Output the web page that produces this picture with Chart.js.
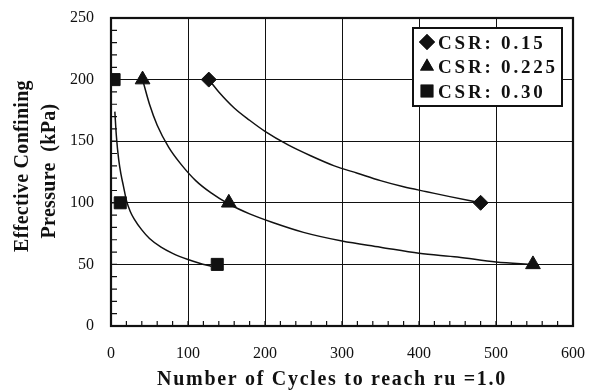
<!DOCTYPE html>
<html>
<head>
<meta charset="utf-8">
<script src="https://cdn.jsdelivr.net/npm/chart.js@4/dist/chart.umd.min.js"></script>
<style>
  html, body { margin: 0; padding: 0; background: #fff; }
</style>
</head>
<body>
<canvas id="c" width="596" height="392"></canvas>
<script>
// measured points (markers)
const csr15X = [127, 480];
const csr15Y = [200, 100];
const csr225X = [41, 153, 548];
const csr225Y = [200, 100, 50];
const csr30X = [4, 12, 138];
const csr30Y = [200, 100, 50];

// trend curves
const fit15X = [127, 140, 160, 180, 200, 230, 260, 290, 320, 350, 380, 410, 440, 480];
const fit15Y = [200, 190, 177, 167, 158, 147, 138, 130, 124, 118, 113, 109, 105, 100];
const fit225X = [41, 50, 60, 75, 90, 110, 130, 153, 180, 210, 250, 300, 350, 400, 450, 500, 548];
const fit225Y = [200, 180, 163, 145, 132, 118, 108, 99, 91, 84, 76, 69, 64, 59, 56, 52, 50];
const fit30X = [5, 7, 10, 13, 16, 20, 25, 30, 40, 50, 65, 80, 100, 115, 130];
const fit30Y = [174, 154, 135, 123, 114, 102, 93, 87, 78, 71, 64, 59, 54, 51, 48.5];

const legendLabels = ['CSR: 0.15', 'CSR: 0.225', 'CSR: 0.30'];
const xTitle = 'Number of Cycles to reach ru =1.0';
const yTitle = ['Effective Confining', 'Pressure  (kPa)'];

const pts = (xs, ys) => xs.map((x, i) => ({ x: x, y: ys[i] }));

const curve = (xs, ys) => ({
  data: pts(xs, ys),
  showLine: true,
  borderColor: '#111',
  borderWidth: 1.5,
  pointRadius: 0,
  tension: 0.4,
  cubicInterpolationMode: 'monotone',
  fill: false,
});

const marks = (label, xs, ys, style, r) => ({
  label: label,
  data: pts(xs, ys),
  showLine: false,
  pointStyle: style,
  pointRadius: r,
  pointBackgroundColor: '#111',
  pointBorderColor: '#111',
  pointBorderWidth: 1,
});

const serif = '"Liberation Serif", "Times New Roman", serif';

const framePlugin = {
  id: 'frame',
  afterDatasetsDraw(chart) {
    const { ctx, chartArea: a, scales } = chart;
    ctx.save();
    ctx.strokeStyle = '#111';
    // inward minor ticks
    ctx.lineWidth = 1.2;
    ctx.beginPath();
    for (let v = 20; v < 600; v += 20) {
      const px = scales.x.getPixelForValue(v);
      ctx.moveTo(px, a.bottom);
      ctx.lineTo(px, a.bottom - 5);
    }
    for (let v = 10; v < 250; v += 10) {
      const py = scales.y.getPixelForValue(v);
      ctx.moveTo(a.left, py);
      ctx.lineTo(a.left + 6, py);
    }
    ctx.stroke();
    // frame
    ctx.lineWidth = 2.2;
    ctx.strokeRect(a.left, a.top, a.right - a.left, a.bottom - a.top);
    ctx.restore();
  },
  afterDraw(chart) {
    const { ctx, chartArea: a } = chart;
    ctx.save();
    // legend box
    const bx = a.right - 160, by = a.top + 10, bw = 149, bh = 78;
    ctx.fillStyle = '#fff';
    ctx.fillRect(bx, by, bw, bh);
    ctx.strokeStyle = '#111';
    ctx.lineWidth = 2;
    ctx.strokeRect(bx, by, bw, bh);
    const ds = chart.data.datasets.filter(d => d.label);
    ctx.font = 'bold 19px ' + serif;
    ctx.letterSpacing = '2.8px';
    ctx.textBaseline = 'alphabetic';
    ds.forEach((d, i) => {
      const cy = by + 14 + i * 24.5;
      ctx.fillStyle = '#111';
      Chart.helpers.drawPoint(ctx, {
        pointStyle: d.pointStyle, radius: d.pointStyle === 'rect' ? 9 : 8, rotation: 0, borderWidth: 0
      }, bx + 14, cy);
      ctx.fill();
      ctx.fillText(legendLabels[i], bx + 25, cy + 6.5);
    });
    // axis titles
    ctx.fillStyle = '#111';
    ctx.textAlign = 'center';
    ctx.textBaseline = 'middle';
    ctx.font = 'bold 20px ' + serif;
    ctx.letterSpacing = '1.7px';
    ctx.fillText(xTitle, 332, 380);
    ctx.font = 'bold 20px ' + serif;
    ctx.letterSpacing = '0.3px';
    ctx.save();
    ctx.translate(23, 166);
    ctx.rotate(-Math.PI / 2);
    ctx.fillText(yTitle[0], 0, 0);
    ctx.restore();
    ctx.save();
    ctx.translate(50, 171);
    ctx.rotate(-Math.PI / 2);
    ctx.fillText(yTitle[1], 0, 0);
    ctx.restore();
    ctx.restore();
  }
};

new Chart(document.getElementById('c'), {
  type: 'scatter',
  data: {
    datasets: [
      curve(fit15X, fit15Y),
      curve(fit225X, fit225Y),
      curve(fit30X, fit30Y),
      marks('CSR: 0.15', csr15X, csr15Y, 'rectRot', 7.5),
      marks('CSR: 0.225', csr225X, csr225Y, 'triangle', 8.5),
      marks('CSR: 0.30', csr30X, csr30Y, 'rect', 8.5),
    ],
  },
  plugins: [framePlugin],
  options: {
    responsive: false,
    devicePixelRatio: 1,
    animation: false,
    layout: {
      padding: { left: 0, top: 18, right: 23, bottom: 0 },
    },
    scales: {
      x: {
        type: 'linear',
        min: 0,
        max: 600,
        afterFit: (s) => { s.height = 66; s.paddingLeft = 0; s.paddingRight = 0; },
        ticks: {
          stepSize: 100,
          maxRotation: 0,
          color: '#111',
          padding: 18,
          font: { family: serif, size: 16 },
        },
        grid: { color: '#111', lineWidth: 1, drawTicks: false },
        border: { display: false },
      },
      y: {
        min: 0,
        max: 250,
        afterFit: (s) => { s.width = 111; s.paddingTop = 0; s.paddingBottom = 0; },
        ticks: {
          stepSize: 50,
          color: '#111',
          padding: 17,
          font: { family: serif, size: 16 },
        },
        grid: { color: '#111', lineWidth: 1, drawTicks: false },
        border: { display: false },
      },
    },
    plugins: {
      legend: { display: false },
      tooltip: { enabled: false },
    },
  },
});
</script>
</body>
</html>
